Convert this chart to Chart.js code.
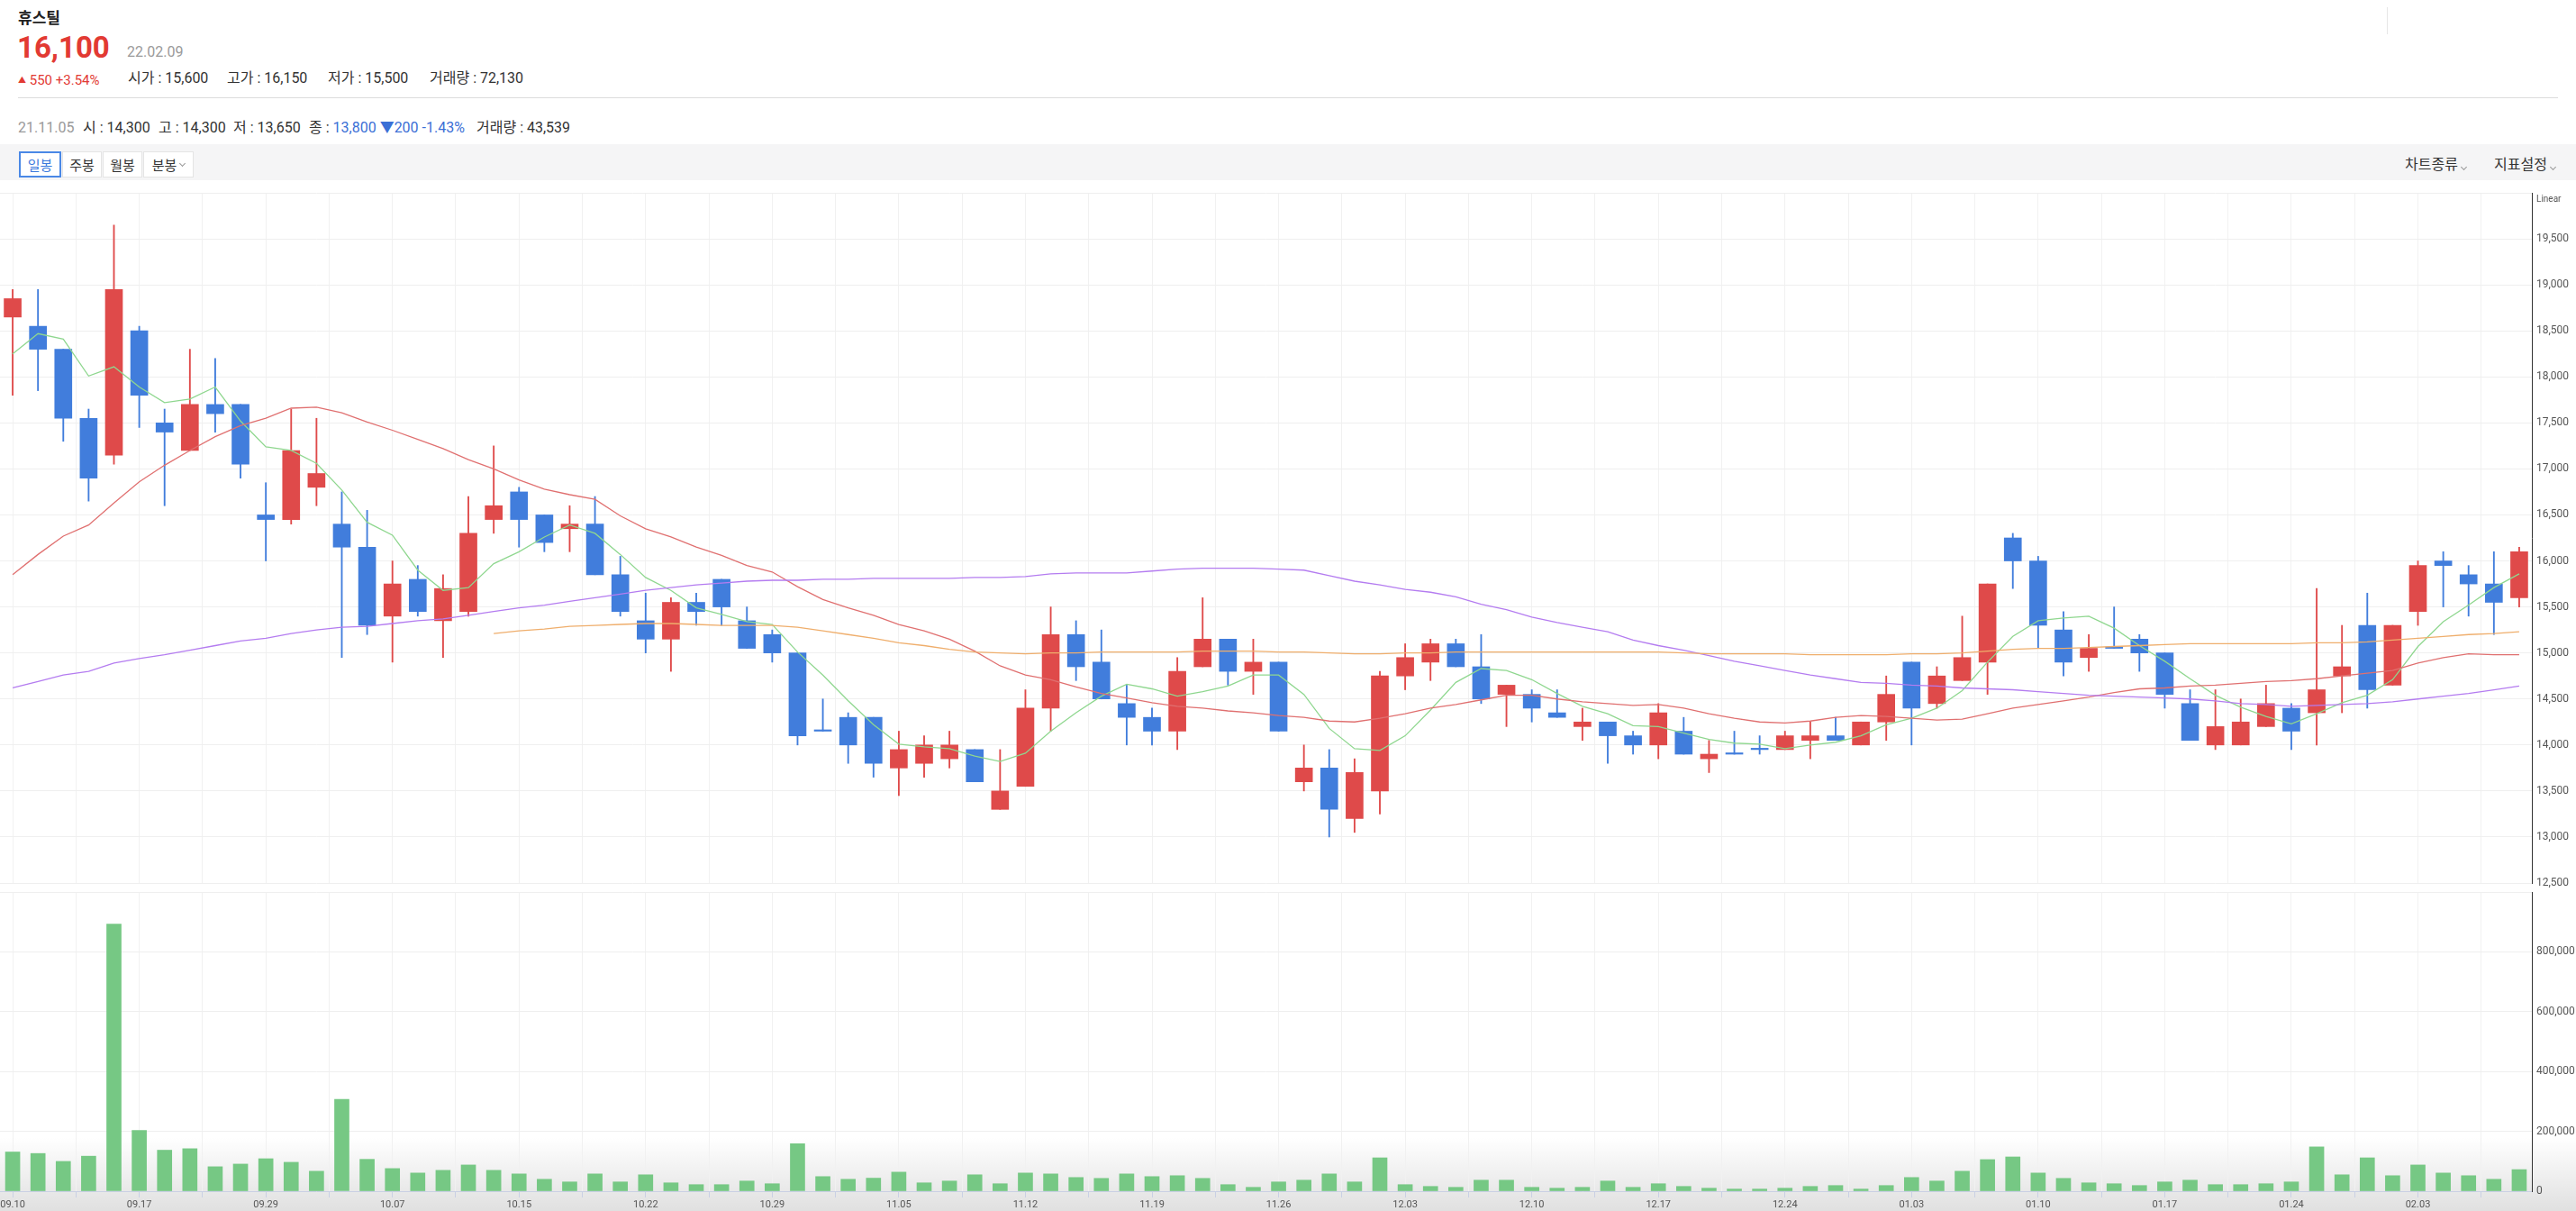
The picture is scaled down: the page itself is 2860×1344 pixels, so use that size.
<!DOCTYPE html>
<html lang="ko">
<head>
<meta charset="utf-8">
<title>휴스틸 일봉</title>
<script src="https://cdn.jsdelivr.net/npm/chart.js@4.4.1/dist/chart.umd.min.js"></script>
<style>
  html, body { margin: 0; padding: 0; background: #fff; }
  body {
    width: 2860px; height: 1344px; position: relative; overflow: hidden;
    font-family: Roboto, "Noto Sans CJK KR", sans-serif; color: #333;
  }
  .abs { position: absolute; white-space: nowrap; line-height: 1; }
  .toolbar { position: absolute; left: 0; top: 160px; width: 2860px; height: 40px; background: #f5f5f6; }
  .btn {
    position: absolute; top: 168px; height: 29px; box-sizing: border-box;
    background: #fff; border: 1px solid #e4e4e4; font-size: 15px; color: #333;
    display: flex; align-items: center; justify-content: center;
  }
  .btn.on { border: 2px solid #4a88e6; color: #3a78dc; }
  .chev {
    display: inline-block; width: 4px; height: 4px; margin-left: 4px; margin-top: -3px;
    border-right: 1px solid #999; border-bottom: 1px solid #999; transform: rotate(45deg);
  }
  .shade {
    position: absolute; left: 0; top: 1262px; width: 2860px; height: 82px;
    background: linear-gradient(to bottom, rgba(0,0,0,0), rgba(0,0,0,0.12));
  }
  canvas { position: absolute; left: 0; }
</style>
</head>
<body>
<div class="shade"></div>

<div class="abs" style="left:20px;top:12px;font-size:17px;font-weight:700;color:#222">휴스틸</div>
<div class="abs" style="left:19px;top:36px;font-size:33px;font-weight:700;color:#e23a33">16,100</div>
<div class="abs" style="left:141px;top:50px;font-size:16px;color:#9a9a9a">22.02.09</div>
<div class="abs" style="left:20px;top:82px;font-size:15px;color:#e23a33"><span style="font-size:9px;vertical-align:2px">▲</span> 550 +3.54%</div>
<div class="abs" style="left:142px;top:79px;font-size:16px">시가 : 15,600</div>
<div class="abs" style="left:252px;top:79px;font-size:16px">고가 : 16,150</div>
<div class="abs" style="left:364px;top:79px;font-size:16px">저가 : 15,500</div>
<div class="abs" style="left:477px;top:79px;font-size:16px">거래량 : 72,130</div>
<div style="position:absolute;left:20px;top:108px;width:2820px;height:1px;background:#dcdcdc"></div>
<div style="position:absolute;left:2650px;top:8px;width:1px;height:30px;background:#e6e6e6"></div>

<div class="abs" style="left:20px;top:134px;font-size:16px;color:#999">21.11.05</div>
<div class="abs" style="left:92px;top:134px;font-size:16px">시 : 14,300</div>
<div class="abs" style="left:176px;top:134px;font-size:16px">고 : 14,300</div>
<div class="abs" style="left:259px;top:134px;font-size:16px">저 : 13,650</div>
<div class="abs" style="left:343px;top:134px;font-size:16px">종 : <span style="color:#3b6fd6">13,800 ▼200 -1.43%</span></div>
<div class="abs" style="left:529px;top:134px;font-size:16px">거래량 : 43,539</div>

<div class="toolbar"></div>
<div class="btn on" style="left:21px;width:47px">일봉</div>
<div class="btn" style="left:69px;width:44px">주봉</div>
<div class="btn" style="left:114px;width:44px">월봉</div>
<div class="btn" style="left:159px;width:56px">분봉<span class="chev"></span></div>
<div class="abs" style="left:2670px;top:175px;font-size:16px">차트종류<span class="chev"></span></div>
<div class="abs" style="left:2769px;top:175px;font-size:16px">지표설정<span class="chev"></span></div>

<canvas id="price" width="2860" height="790" style="top:200px"></canvas>
<canvas id="volume" width="2860" height="356" style="top:988px"></canvas>

<script>
// x-axis labels, one every 5 trading days
const tickLabels = ['09.10', '09.17', '09.29', '10.07', '10.15', '10.22', '10.29', '11.05', '11.12', '11.19',
  '11.26', '12.03', '12.10', '12.17', '12.24', '01.03', '01.10', '01.17', '01.24', '02.03']
const priceTicks = [12500, 13000, 13500, 14000, 14500, 15000, 15500, 16000, 16500, 17000, 17500, 18000, 18500, 19000, 19500, 20000]
const volumeTicks = [0, 200000, 400000, 600000, 800000, 1000000]

const open = [18650, 18550, 18300, 17550, 17150, 18500, 17500, 17200, 17700, 17700,
  16500, 16450, 16800, 16400, 16150, 15400, 15800, 15350, 15450, 16450,
  16750, 16500, 16350, 16400, 15850, 15350, 15150, 15550, 15800, 15350,
  15200, 15000, 14150, 14300, 14300, 13750, 13800, 13850, 13950, 13300,
  13550, 14400, 15200, 14900, 14450, 14300, 14150, 14850, 15150, 14800,
  14900, 13600, 13750, 13200, 13500, 14750, 14900, 15100, 14850, 14550,
  14550, 14350, 14200, 14250, 14100, 14000, 14150, 13850, 13900, 13950,
  13950, 14050, 14100, 14000, 14250, 14900, 14450, 14700, 14900, 16250,
  16000, 15250, 14950, 15050, 15150, 15000, 14450, 14000, 14000, 14200,
  14400, 14350, 14750, 15300, 14650, 15450, 16000, 15850, 15750, 15600]
const high = [18950, 18950, 18300, 17650, 19650, 18550, 17650, 18300, 18200, 17700,
  16850, 17650, 17550, 16750, 16550, 16000, 15950, 15850, 16700, 17250,
  16800, 16500, 16600, 16700, 16050, 15650, 15600, 15650, 15800, 15500,
  15250, 15000, 14500, 14350, 14300, 14150, 14100, 14150, 13950, 13950,
  14600, 15500, 15350, 15250, 14650, 14400, 14950, 15600, 15150, 15150,
  14900, 14000, 13950, 13850, 14800, 15100, 15150, 15150, 15200, 14650,
  14600, 14600, 14400, 14250, 14150, 14450, 14300, 14050, 14150, 14100,
  14150, 14250, 14300, 14250, 14750, 14900, 14850, 15400, 15750, 16300,
  16050, 15450, 15200, 15500, 15200, 15000, 14600, 14600, 14500, 14650,
  14450, 15700, 15300, 15650, 15300, 16000, 16100, 15950, 16100, 16150]
const low = [17800, 17850, 17300, 16650, 17050, 17450, 16600, 17200, 17400, 16900,
  16000, 16400, 16600, 14950, 15200, 14900, 15400, 14950, 15400, 16300,
  16150, 16100, 16100, 15850, 15400, 15000, 14800, 15300, 15300, 15050,
  14900, 14000, 14150, 13800, 13650, 13450, 13650, 13750, 13600, 13300,
  13550, 14150, 14700, 14500, 14000, 14000, 13950, 14850, 14650, 14550,
  14150, 13500, 13000, 13050, 13250, 14600, 14700, 14850, 14450, 14200,
  14250, 14300, 14050, 13800, 13900, 13850, 13900, 13700, 13900, 13900,
  13950, 13850, 14050, 14000, 14050, 14000, 14400, 14700, 14550, 15700,
  15050, 14750, 14800, 15050, 14800, 14400, 14050, 13950, 14000, 14200,
  13950, 14000, 14350, 14400, 14650, 15300, 15500, 15400, 15200, 15500]
const close = [18850, 18300, 17550, 16900, 18950, 17800, 17400, 17700, 17600, 17050,
  16450, 17200, 16950, 16150, 15300, 15750, 15450, 15700, 16300, 16600,
  16450, 16200, 16400, 15850, 15450, 15150, 15550, 15450, 15500, 15050,
  15000, 14100, 14150, 14000, 13800, 13950, 14000, 14000, 13600, 13500,
  14400, 15200, 14850, 14500, 14300, 14150, 14800, 15150, 14800, 14900,
  14150, 13750, 13300, 13700, 14750, 14950, 15100, 14850, 14500, 14650,
  14400, 14300, 14250, 14100, 14000, 14350, 13900, 13900, 13900, 13950,
  14100, 14100, 14050, 14250, 14550, 14400, 14750, 14950, 15750, 16000,
  15300, 14900, 15050, 15050, 15000, 14550, 14050, 14200, 14250, 14450,
  14150, 14600, 14850, 14600, 15300, 15950, 15950, 15750, 15550, 16100]
const volume = [131000, 126000, 99500, 117000, 893000, 203000, 137000, 142000, 81700, 90600,
  108500, 96600, 66700, 307000, 106500, 75700, 60700, 69700, 87600, 69700,
  57700, 39800, 30900, 57700, 30900, 54800, 27900, 21900, 21900, 33900,
  24900, 159000, 48800, 39800, 43539, 63700, 27900, 33900, 54800, 24900,
  60700, 57700, 45800, 42800, 57700, 48800, 51800, 42800, 21900, 12900,
  30900, 36800, 57700, 30900, 111500, 21900, 15900, 12900, 36800, 36800,
  12900, 10000, 12900, 33900, 12900, 24900, 15900, 10000, 7000, 7000,
  10000, 15900, 18900, 7000, 18900, 45800, 33900, 66700, 105600, 114500,
  60700, 42800, 27900, 24900, 18900, 30900, 36800, 21900, 21900, 24900,
  30900, 148000, 54800, 111500, 51800, 87600, 60700, 51800, 39800, 72130]

// moving averages as drawn on the chart
const ma5 = [18250, 18470, 18410, 18010, 18110, 17890, 17720, 17760, 17890, 17520,
  17240, 17200, 17060, 16770, 16420, 16280, 15900, 15680, 15710, 15970,
  16100, 16260, 16390, 16300, 16070, 15820, 15680, 15490, 15420, 15340,
  15310, 15010, 14760, 14480, 14220, 14010, 13980, 13960, 13880, 13820,
  13910, 14150, 14350, 14530, 14660, 14610, 14530, 14580, 14640, 14760,
  14760, 14550, 14180, 13960, 13940, 14100, 14380, 14680, 14830, 14810,
  14710, 14560, 14420, 14340, 14210, 14200, 14130, 14060, 14020, 14010,
  13960, 14000, 14030, 14100, 14220, 14290, 14400, 14590, 14900, 15180,
  15350, 15380, 15400, 15270, 15080, 14910, 14720, 14540, 14410, 14310,
  14230, 14340, 14460, 14540, 14710, 15070, 15340, 15520, 15710, 15860]
const ma20 = [15850, 16070, 16270, 16390, 16630, 16860, 17040, 17200, 17350, 17470,
  17550, 17660, 17670, 17610, 17510, 17420, 17320, 17220, 17100, 17000,
  16880, 16780, 16720, 16670, 16490, 16350, 16260, 16150, 16060, 15950,
  15880, 15720, 15580, 15490, 15410, 15310, 15240, 15150, 15020, 14860,
  14760, 14710, 14630, 14560, 14510, 14460, 14420, 14400, 14370, 14350,
  14320, 14300, 14260, 14250, 14290, 14340, 14400, 14440, 14490, 14540,
  14540, 14500, 14470, 14450, 14430, 14440, 14400, 14340, 14290, 14250,
  14240, 14260, 14300, 14320, 14310, 14290, 14270, 14280, 14340, 14400,
  14440, 14480, 14520, 14570, 14610, 14620, 14640, 14650, 14670, 14690,
  14700, 14720, 14750, 14780, 14810, 14890, 14950, 14990, 14980, 14980]
const ma60 = [14620, 14690, 14760, 14800, 14890, 14940, 14980, 15030, 15080, 15130,
  15160, 15210, 15250, 15280, 15290, 15320, 15350, 15370, 15410, 15450,
  15490, 15520, 15560, 15600, 15640, 15680, 15710, 15740, 15760, 15780,
  15790, 15790, 15800, 15800, 15810, 15810, 15810, 15810, 15820, 15820,
  15830, 15860, 15870, 15870, 15870, 15890, 15910, 15920, 15920, 15920,
  15910, 15900, 15840, 15780, 15740, 15690, 15660, 15610, 15530, 15470,
  15390, 15330, 15280, 15230, 15140, 15080, 15030, 14970, 14910, 14860,
  14810, 14760, 14720, 14680, 14670, 14650, 14640, 14620, 14610, 14600,
  14580, 14560, 14540, 14530, 14520, 14510, 14500, 14480, 14450, 14440,
  14420, 14430, 14440, 14450, 14470, 14500, 14530, 14560, 14600, 14640]
const ma120 = [null, null, null, null, null, null, null, null, null, null,
  null, null, null, null, null, null, null, null, null, 15210,
  15240, 15260, 15290, 15300, 15310, 15320, 15320, 15310, 15300, 15300,
  15300, 15280, 15240, 15200, 15160, 15110, 15080, 15040, 15010, 15000,
  14990, 15000, 15000, 15010, 15010, 15010, 15010, 15020, 15020, 15020,
  15010, 15010, 15000, 14990, 14990, 15000, 15000, 15010, 15010, 15010,
  15010, 15010, 15010, 15010, 15010, 15010, 15000, 14990, 14990, 14990,
  14990, 14980, 14980, 14980, 14980, 14990, 14990, 15000, 15020, 15040,
  15050, 15050, 15060, 15070, 15080, 15090, 15100, 15100, 15100, 15100,
  15100, 15110, 15110, 15120, 15140, 15160, 15180, 15200, 15210, 15230]

const UP = '#df4a4a'
const DOWN = '#417ddc'
const candleColor = close.map((c, i) => (c > open[i] ? UP : DOWN))
// grid lines every two and a half sessions
const gridSteps = Array.from({ length: 40 }, (_, k) => k * 2.5)

Chart.defaults.font.family = 'Roboto, "Noto Sans CJK KR", sans-serif'
Chart.defaults.animation = false

const xAxis = (withLabels) => ({
  type: 'linear', min: -0.5, max: 99.5, offset: false,
  afterBuildTicks: (s) => { s.ticks = gridSteps.map((v) => ({ value: v })) },
  afterFit: (s) => { s.height = withLabels ? 22 : 0; s.paddingLeft = 0; s.paddingRight = 0 },
  ticks: {
    display: withLabels, autoSkip: false, maxRotation: 0, padding: 2,
    color: '#555', font: { size: 11 },
    callback: (v) => (v % 5 === 0 ? tickLabels[v / 5] : '')
  },
  grid: { offset: false, color: '#f1f1f1', drawTicks: withLabels, tickLength: 7, tickColor: '#c9d0e4' },
  border: { display: withLabels, color: '#c9d0e4' }
})

const yAxis = (min, max, ticks, hideTop) => ({
  position: 'right', min, max,
  afterBuildTicks: (s) => { s.ticks = ticks.map((v) => ({ value: v })) },
  afterFit: (s) => { s.width = 49; s.paddingTop = 0; s.paddingBottom = 0 },
  ticks: {
    padding: 5, color: '#555', font: { size: 12 },
    callback: (v) => (v === hideTop ? '' : v.toLocaleString('en-US'))
  },
  grid: { color: '#efefef', drawTicks: false },
  border: { display: true, color: '#333' }
})

const linearLabel = {
  id: 'linearLabel',
  afterDraw(chart) {
    const { ctx, chartArea } = chart
    ctx.save()
    ctx.font = '10px Roboto'
    ctx.fillStyle = '#555'
    ctx.textBaseline = 'top'
    ctx.fillText('Linear', chartArea.right + 5, chartArea.top + 2)
    ctx.restore()
  }
}

const idx = close.map((_, i) => i)
const line = (data, color) => ({
  type: 'line', data: idx.map((i) => ({ x: i, y: data[i] })),
  borderColor: color, borderWidth: 1.3, pointRadius: 0, tension: 0, order: 0
})

new Chart(document.getElementById('price'), {
  type: 'bar',
  data: {
    datasets: [
      {
        data: idx.map((i) => ({ x: i, y: [low[i], high[i]] })),
        backgroundColor: candleColor, barThickness: 1.2, grouped: false, order: 2
      },
      {
        data: idx.map((i) => ({ x: i, y: [Math.min(open[i], close[i]), Math.max(open[i], close[i])] })),
        backgroundColor: candleColor, barThickness: 19, minBarLength: 1.5, grouped: false, order: 1
      },
      line(ma120, '#efae6c'),
      line(ma60, '#b47cf0'),
      line(ma20, '#e07070'),
      line(ma5, '#8fd78f')
    ]
  },
  options: {
    responsive: false, devicePixelRatio: 1,
    layout: { padding: { top: 14, bottom: 10, left: 0, right: 0 } },
    plugins: { legend: { display: false }, tooltip: { enabled: false } },
    events: [],
    scales: { x: xAxis(false), y: yAxis(12500, 20000, priceTicks, 20000) }
  },
  plugins: [linearLabel]
})

new Chart(document.getElementById('volume'), {
  type: 'bar',
  data: {
    datasets: [{
      data: idx.map((i) => ({ x: i, y: volume[i] })),
      backgroundColor: '#76c884', barThickness: 16
    }]
  },
  options: {
    responsive: false, devicePixelRatio: 1,
    layout: { padding: { top: 2, bottom: 0, left: 0, right: 0 } },
    plugins: { legend: { display: false }, tooltip: { enabled: false } },
    events: [],
    scales: { x: xAxis(true), y: yAxis(0, 1000000, volumeTicks, 1000000) }
  }
})
</script>
</body>
</html>
